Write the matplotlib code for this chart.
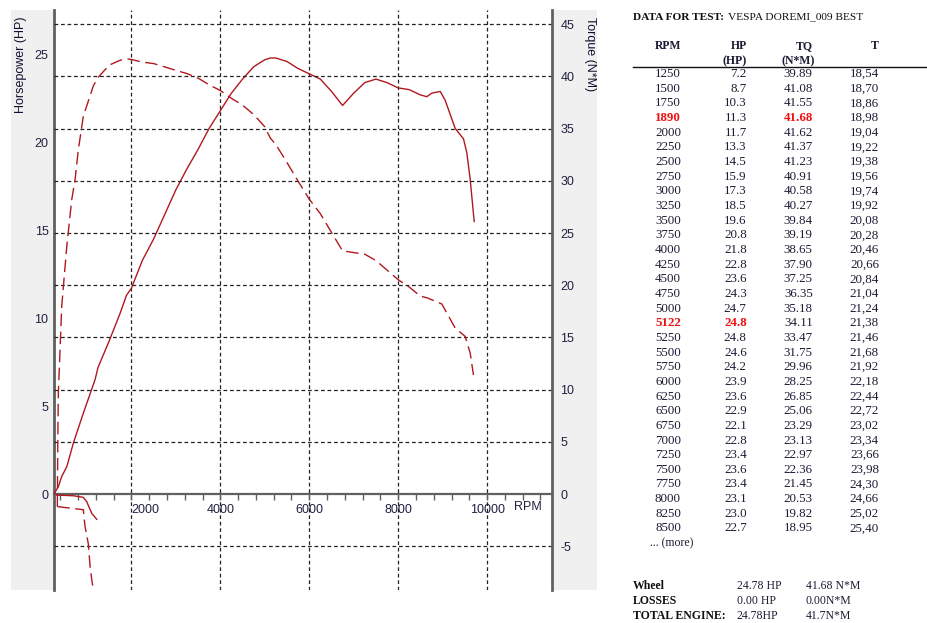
import matplotlib
matplotlib.use('Agg')
import matplotlib.pyplot as plt
from matplotlib.patches import Rectangle
from matplotlib.ticker import MultipleLocator

plt.rcParams['axes.unicode_minus'] = False

# table data (DATA FOR TEST: VESPA DOREMI_009 BEST)
rpm = [1250, 1500, 1750, 1890, 2000, 2250, 2500, 2750, 3000, 3250, 3500, 3750, 4000, 4250,
       4500, 4750, 5000, 5122, 5250, 5500, 5750, 6000, 6250, 6500, 6750, 7000, 7250, 7500,
       7750, 8000, 8250, 8500]
hp = [7.2, 8.7, 10.3, 11.3, 11.7, 13.3, 14.5, 15.9, 17.3, 18.5, 19.6, 20.8, 21.8, 22.8,
      23.6, 24.3, 24.7, 24.8, 24.8, 24.6, 24.2, 23.9, 23.6, 22.9, 22.1, 22.8, 23.4, 23.6,
      23.4, 23.1, 23.0, 22.7]
tq = [39.89, 41.08, 41.55, 41.68, 41.62, 41.37, 41.23, 40.91, 40.58, 40.27, 39.84, 39.19,
      38.65, 37.90, 37.25, 36.35, 35.18, 34.11, 33.47, 31.75, 29.96, 28.25, 26.85, 25.06,
      23.29, 23.13, 22.97, 22.36, 21.45, 20.53, 19.82, 18.95]
t_col = ['18,54', '18,70', '18,86', '18,98', '19,04', '19,22', '19,38', '19,56', '19,74',
         '19,92', '20,08', '20,28', '20,46', '20,66', '20,84', '21,04', '21,24', '21,38',
         '21,46', '21,68', '21,92', '22,18', '22,44', '22,72', '23,02', '23,34', '23,66',
         '23,98', '24,30', '24,66', '25,02', '25,40']
red_rpm = [1890, 5122]

# parts of the curves not in the table
hp_low_rpm = [260, 358, 434, 547, 696, 920, 1183]
hp_low = [0.0, 0.42, 1.0, 1.55, 2.9, 4.6, 6.5]
hp_hi_rpm = [8645, 8757, 8945, 9057, 9282, 9470, 9545, 9620, 9710]
hp_hi = [22.6, 22.8, 22.9, 22.4, 20.8, 20.2, 19.4, 17.9, 15.5]
tq_low_rpm = [335, 345, 358, 434, 547, 659, 733, 808, 920, 1145]
tq_low = [-1.2, 5.0, 9.7, 18.0, 23.7, 28.2, 30.1, 33.0, 36.2, 39.1]
tq_hi_rpm = [8646, 8983, 9282, 9507, 9620, 9694]
tq_hi = [18.8, 18.2, 15.9, 15.1, 13.5, 11.4]
# coast-down / loss traces under zero
loss_hp_rpm = [320, 700, 920, 997, 1109, 1222]
loss_hp = [-0.06, -0.1, -0.19, -0.44, -1.1, -1.44]
loss_tq_rpm = [335, 920, 935, 958, 1033, 1071, 1109, 1146, 1222]
loss_tq = [-1.2, -1.5, -2.2, -3.1, -4.8, -6.9, -8.2, -9.25, -9.5]

summary = [('Wheel', '24.78 HP', '41.68 N*M'),
           ('LOSSES', '0.00 HP', '0.00N*M'),
           ('TOTAL ENGINE:', '24.78HP', '41.7N*M')]

W, H = 928, 623
fig = plt.figure(figsize=(W / 100, H / 100), dpi=100)
fig.patch.set_facecolor('white')


def fx(x):
    return x / W


def fy(y):
    return 1 - y / H


# grey label bands either side of the plot
for x0, x1 in [(11, 54), (552, 597)]:
    fig.patches.append(Rectangle((fx(x0), fy(590)), (x1 - x0) / W, 580 / H,
                                 transform=fig.transFigure, facecolor='#f0f0f0',
                                 edgecolor='none', zorder=-5))

ax = fig.add_axes([fx(54), fy(590), (552 - 54) / W, (590 - 10) / H])
ax2 = ax.twinx()
ax.set_facecolor('white')

line_col = '#b0181e'
txt_col = '#202040'
axis_col = '#606060'
sans = 'Liberation Sans'
serif = 'Liberation Serif'

hp_all_rpm = hp_low_rpm + rpm + hp_hi_rpm
hp_all = hp_low + hp + hp_hi
tq_all_rpm = tq_low_rpm + rpm + tq_hi_rpm
tq_all = tq_low + tq + tq_hi

ax.plot(hp_all_rpm, hp_all, color=line_col, lw=1.0, zorder=3)
ax.plot(loss_hp_rpm, loss_hp, color=line_col, lw=1.0, zorder=3)
ax2.plot(tq_all_rpm, tq_all, color=line_col, lw=1.0, dashes=(9, 4), zorder=3)
ax2.plot(loss_tq_rpm, loss_tq, color=line_col, lw=1.0, dashes=(9, 4), zorder=3)

ax.set_xlim(260, 11460)
ax.set_ylim(-5.46, 27.53)
ax2.set_ylim(-9.19, 46.36)

# spines
ax.spines['top'].set_visible(False)
ax.spines['right'].set_visible(False)
ax.spines['bottom'].set_position(('data', 0))
ax.spines['bottom'].set_color(axis_col)
ax.spines['bottom'].set_linewidth(1.6)
ax.spines['left'].set_color(axis_col)
ax.spines['left'].set_linewidth(2)
for s in ['top', 'left', 'bottom']:
    ax2.spines[s].set_visible(False)
ax2.spines['right'].set_color(axis_col)
ax2.spines['right'].set_linewidth(2)

# ticks
ax.set_xticks([2000, 4000, 6000, 8000, 10000])
ax.xaxis.set_minor_locator(MultipleLocator(400))
ax.tick_params(axis='x', which='both', direction='out', length=4, width=1,
               color=axis_col, labelsize=9, labelcolor=txt_col, pad=3)
ax.set_yticks([0, 5, 10, 15, 20, 25])
ax.tick_params(axis='y', length=0, labelsize=9, labelcolor=txt_col, pad=4)
ax2.set_yticks(list(range(-5, 50, 5)))
ax2.tick_params(axis='y', length=0, labelsize=9, labelcolor=txt_col, pad=6)
for lab in ax.get_xticklabels() + ax.get_yticklabels() + ax2.get_yticklabels():
    lab.set_fontfamily(sans)
ax.get_xticklabels()[0].set_horizontalalignment('left')

# dotted grid
grid_kw = dict(color='#222222', lw=0.9, ls=(0, (3, 2.2)))
ax.grid(axis='x', which='major', **grid_kw)
ax2.grid(axis='y', which='major', **grid_kw)
ax2.yaxis.get_major_ticks()[1].gridline.set_visible(False)

fig.text(fx(528), fy(507), 'RPM', ha='center', va='center', fontsize=9,
         family=sans, color=txt_col)
fig.text(fx(21), fy(65), 'Horsepower (HP)', rotation=90, ha='center', va='center',
         fontsize=9, family=sans, color='#101030')
fig.text(fx(590), fy(54), 'Torque (N*M)', rotation=270, ha='center', va='center',
         fontsize=9, family=sans, color='#101030')

# right-hand data table
tcol = '#1c1c34'
title_b = fig.text(fx(632.7), fy(17), 'DATA FOR TEST:', ha='left', va='center',
                   fontsize=8.2, family=serif, weight='bold', color='#101010')
fig.canvas.draw()
bb = title_b.get_window_extent()
fig.text(fx(bb.x1 + 4), fy(17), 'VESPA DOREMI_009 BEST', ha='left', va='center',
         fontsize=8.2, family=serif, color='#101010')

col_x = [681, 746.7, 812.7, 879]
for x, t in zip(col_x, ['RPM', 'HP', 'TQ', 'T']):
    fig.text(fx(x), fy(45.7), t, ha='right', va='center', fontsize=8.5, family=serif,
             weight='bold', color=tcol)
fig.text(fx(746.7), fy(61), '(HP)', ha='right', va='center', fontsize=8.5,
         family=serif, weight='bold', color=tcol)
fig.text(fx(815), fy(61), '(N*M)', ha='right', va='center', fontsize=8.5,
         family=serif, weight='bold', color=tcol)
fig.add_artist(plt.Line2D([fx(632.7), fx(928)], [fy(66.7), fy(66.7)],
                          transform=fig.transFigure, color='#111111', lw=1))

row_h = 14.66
for i, (r, h, q, t) in enumerate(zip(rpm, hp, tq, t_col)):
    y = fy(74 + i * row_h)
    hot = r in red_rpm
    cells = [str(r), f'{h:.1f}', f'{q:.2f}', t]
    for j, (x, s) in enumerate(zip(col_x, cells)):
        red = hot and (j == 0 or (r == 1890 and j == 2) or (r == 5122 and j == 1))
        fig.text(fx(x), y, s, ha='right', va='center', fontsize=9.4, family=serif,
                 color='#ee1111' if red else tcol, weight='bold' if red else 'normal')
fig.text(fx(650), fy(543.3), '... (more)', ha='left', va='center', fontsize=8.5,
         family=serif, color=tcol)

for k, (a, b, c) in enumerate(summary):
    y = fy(586 + k * 15)
    fig.text(fx(632.7), y, a, ha='left', va='center', fontsize=8.5, family=serif,
             weight='bold', color='#101010')
    fig.text(fx(736.7), y, b, ha='left', va='center', fontsize=8.5, family=serif,
             color=tcol)
    fig.text(fx(805.7), y, c, ha='left', va='center', fontsize=8.5, family=serif,
             color=tcol)

fig.savefig('out.png', dpi=100)
